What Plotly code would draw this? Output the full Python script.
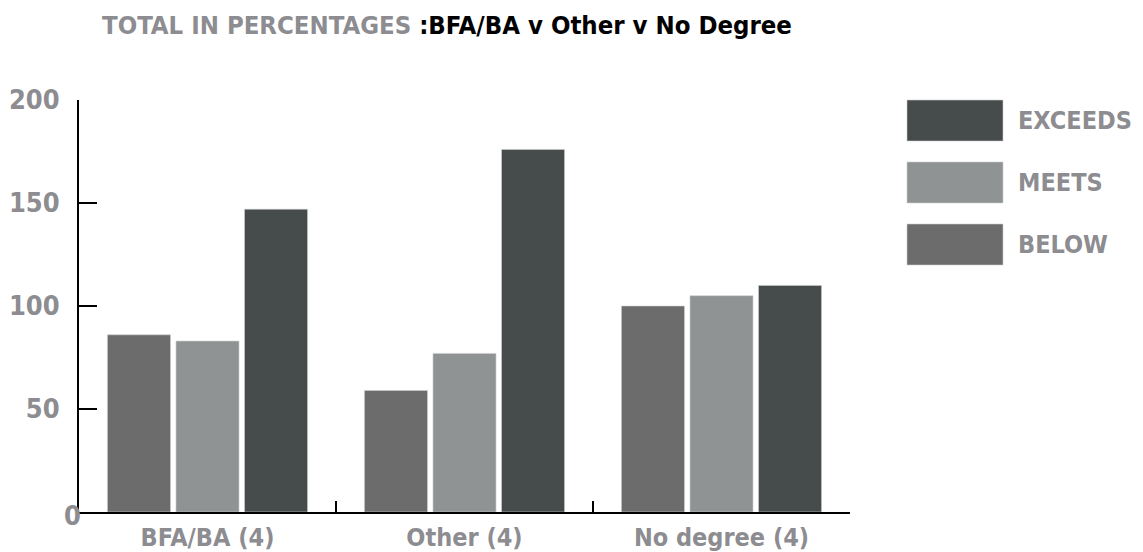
import plotly.graph_objects as go

categories = ["BFA/BA (4)", "Other (4)", "No degree (4)"]
below = [86, 59, 100]
meets = [83, 77, 105]
exceeds = [147, 176, 110]

series_names = ["BELOW", "MEETS", "EXCEEDS"]
series_colors = {"BELOW": "#6c6c6c", "MEETS": "#8f9393", "EXCEEDS": "#464b4b"}
series_values = {"BELOW": below, "MEETS": meets, "EXCEEDS": exceeds}

FONT = "DejaVu Sans Condensed, Roboto, sans-serif"
GRAY = "#8c8c91"

fig = go.Figure()
for name in series_names:
    fig.add_trace(go.Bar(
        x=categories, y=series_values[name], name=name,
        marker=dict(color=series_colors[name], line=dict(color="#d0d0d0", width=0.6)),
        showlegend=False,
    ))

# Custom legend: large swatches with bold condensed labels
legend_order = ["EXCEEDS", "MEETS", "BELOW"]
sw_x0, sw_x1 = 907, 1003
sw_top0, sw_h, sw_step = 100, 41, 62
W, H = 1143, 552
shapes = []
annotations = []
for i, name in enumerate(legend_order):
    top = sw_top0 + i * sw_step
    shapes.append(dict(
        type="rect", xref="paper", yref="paper",
        x0=(sw_x0 - 79) / (850 - 79), x1=(sw_x1 - 79) / (850 - 79),
        y0=(512 - (top + sw_h)) / (512 - 100), y1=(512 - top) / (512 - 100),
        fillcolor=series_colors[name], line=dict(color="#cfcfcf", width=0.6),
    ))
    annotations.append(dict(
        xref="paper", yref="paper",
        x=(1016 - 79) / (850 - 79), y=(512 - (top + sw_h / 2)) / (512 - 100),
        xanchor="left", yanchor="middle", showarrow=False,
        text=f"<b>{name}</b>", font=dict(family=FONT, size=25, color=GRAY),
    ))

# Title with a gray lead-in and black remainder
annotations.append(dict(
    xref="paper", yref="paper",
    x=(100 - 79) / (850 - 79), y=(512 - 25) / (512 - 100),
    xanchor="left", yanchor="middle", showarrow=False,
    text=(f"<b><span style='color:{GRAY}'>TOTAL IN PERCENTAGES </span>"
          "<span style='color:#000000'>:BFA/BA v Other v No Degree</span></b>"),
    font=dict(family=FONT, size=25.5),
))

# The zero label sits low against the axis corner
annotations.append(dict(
    xref="paper", yref="paper",
    x=(72 - 79) / (850 - 79), y=(512 - 515) / (512 - 100),
    xanchor="center", yanchor="middle", showarrow=False,
    text="<b>0</b>", font=dict(family=FONT, size=27, color=GRAY),
))

fig.update_layout(
    width=W, height=H,
    margin=dict(l=79, r=W - 850, t=100, b=H - 512),
    paper_bgcolor="white", plot_bgcolor="white",
    barmode="group", bargap=0.2, bargroupgap=0.08,
    shapes=shapes, annotations=annotations,
    xaxis=dict(
        type="category", showline=True, linecolor="black", linewidth=2,
        ticks="inside", tickson="boundaries", ticklen=11, tickwidth=2, tickcolor="black",
        showgrid=False, zeroline=False, automargin=False,
        tickfont=dict(family=FONT, size=25, color=GRAY),
        ticklabelstandoff=2,
    ),
    yaxis=dict(
        range=[0, 200], tickvals=[50, 100, 150, 200],
        ticktext=["<b>50</b>", "<b>100</b>", "<b>150</b>", "<b>200</b>"],
        showline=True, linecolor="black", linewidth=2,
        ticks="inside", ticklen=18, tickwidth=2, tickcolor="black",
        showgrid=False, zeroline=False, automargin=False,
        tickfont=dict(family=FONT, size=27, color=GRAY),
        ticklabelstandoff=12,
    ),
)
fig.update_xaxes(ticktext=[f"<b>{c}</b>" for c in categories], tickvals=categories)

fig.write_html("out.html")
